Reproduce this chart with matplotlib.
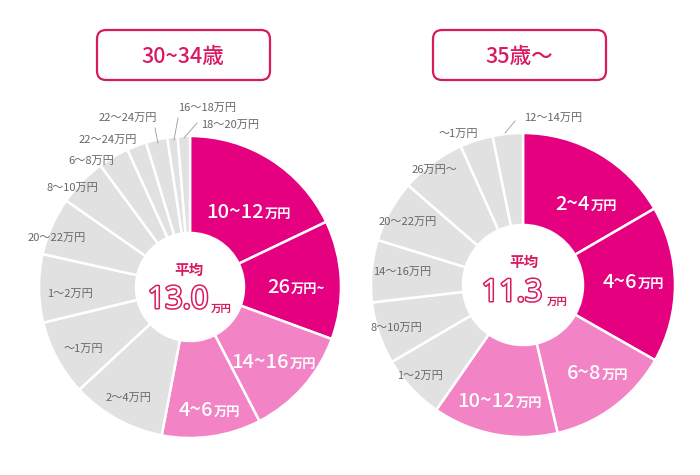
import matplotlib
matplotlib.use('Agg')
import matplotlib.pyplot as plt
import matplotlib.patheffects as pe
from matplotlib.patches import FancyBboxPatch

plt.rcParams['font.family'] = ['Noto Sans CJK JP', 'DejaVu Sans']

# --- data (share in %, clockwise from 12 o'clock) ---
left_title = '30~34歳'
left_avg = '13.0'
left_labels = ['10~12万円', '26万円~', '14~16万円', '4~6万円', '2～4万円', '～1万円',
               '1～2万円', '20～22万円', '8～10万円', '6～8万円', '22～24万円',
               '22～24万円', '16～18万円', '18～20万円']
left_values = [17.9, 12.7, 11.8, 10.6, 10.1, 8.1, 7.3, 6.2, 5.2, 3.3, 2.1, 2.3, 1.1, 1.3]

right_title = '35歳～'
right_avg = '11.3'
right_labels = ['2~4万円', '4~6万円', '6~8万円', '10~12万円', '1～2万円', '8～10万円',
                '14～16万円', '20～22万円', '26万円～', '～1万円', '12～14万円']
right_values = [16.6, 16.6, 13.1, 13.3, 6.9, 6.6, 6.6, 6.6, 6.9, 3.5, 3.2]

DEEP = '#E4007F'
LIGHT = '#F284C5'
GRAY = '#E1E1E1'
ACCENT = '#D81B60'
TXT = '#666666'

H = 475


def Y(y):
    # image pixel row -> axis y
    return H - y


fig = plt.figure(figsize=(7, 4.75), dpi=100)
ax = fig.add_axes([0, 0, 1, 1])


def donut(values, cx, cy, r, hole):
    colors = [DEEP, DEEP, LIGHT, LIGHT] + [GRAY] * (len(values) - 4)
    ax.pie(values, colors=colors, startangle=90, counterclock=False,
           center=(cx, Y(cy)), radius=r,
           wedgeprops=dict(width=r - hole, edgecolor='white', linewidth=1.8))


def big_label(split_x, base_y, num, unit):
    ax.text(split_x, Y(base_y), num, ha='right', va='baseline', fontsize=14.5,
            color='white', fontweight='medium')
    ax.text(split_x + 1, Y(base_y), unit, ha='left', va='baseline', fontsize=9.5,
            color='white', fontweight='bold')


def small_label(x, y, s):
    ax.text(x, Y(y), s, ha='center', va='center', fontsize=8, color=TXT)


def leader(x0, y0, x1, y1):
    ax.plot([x0, x1], [Y(y0), Y(y1)], color='#999999', lw=0.6)


def title_box(x0, x1, s, tx):
    box = FancyBboxPatch((x0, Y(80)), x1 - x0, 50,
                         boxstyle='round,pad=0,rounding_size=9',
                         fc='white', ec=ACCENT, lw=1.6)
    ax.add_patch(box)
    ax.text(tx, Y(57), s, ha='center', va='center', fontsize=15.5,
            color=ACCENT, fontweight='medium')


def center_text(cx, avg, ax_num, y_num, x_unit, y_unit, y_head):
    ax.text(cx, Y(y_head), '平均', ha='center', va='center', fontsize=10.5,
            color=ACCENT, fontweight='bold')
    ax.text(ax_num, Y(y_num), avg, ha='center', va='center', fontsize=22,
            family='Noto Sans', fontweight='bold', color='white',
            path_effects=[pe.withStroke(linewidth=2.2, foreground=ACCENT)])
    ax.text(x_unit, Y(y_unit), '万円', ha='left', va='center', fontsize=7.5,
            color=ACCENT, fontweight='bold')


# left chart
donut(left_values, 190, 287, 151, 54)
title_box(97, 270, left_title, 183)
center_text(189, left_avg, 178, 300, 211, 309, 270)

big_label(264, 218, '10~12', '万円')
big_label(290, 293, '26', '万円~')
big_label(289, 368, '14~16', '万円')
big_label(213, 416, '4~6', '万円')

small_label(128, 398, left_labels[4])
small_label(83, 349, left_labels[5])
small_label(70, 294, left_labels[6])
small_label(57, 238, left_labels[7])
small_label(72, 188, left_labels[8])
small_label(91, 161, left_labels[9])
small_label(108, 140, left_labels[10])
small_label(128, 118, left_labels[11])
small_label(207, 108, left_labels[12])
small_label(230, 125, left_labels[13])
leader(155, 128, 158, 143)
leader(178, 118, 174, 140)
leader(197, 123, 184, 138)

# right chart
donut(right_values, 523, 285, 152, 60)
title_box(433, 606, right_title, 519)
center_text(524, right_avg, 512, 293, 547, 302, 262)

big_label(590, 210, '2~4', '万円')
big_label(637, 288, '4~6', '万円')
big_label(601, 379, '6~8', '万円')
big_label(515, 407, '10~12', '万円')

small_label(420, 376, right_labels[4])
small_label(396, 328, right_labels[5])
small_label(402, 272, right_labels[6])
small_label(408, 222, right_labels[7])
small_label(434, 170, right_labels[8])
small_label(458, 134, right_labels[9])
small_label(553, 118, right_labels[10])
leader(515, 121, 505, 133)

ax.set_xlim(0, 700)
ax.set_ylim(0, 475)
ax.set_aspect('equal')
ax.axis('off')

fig.savefig('out.png', dpi=100, facecolor='white')
